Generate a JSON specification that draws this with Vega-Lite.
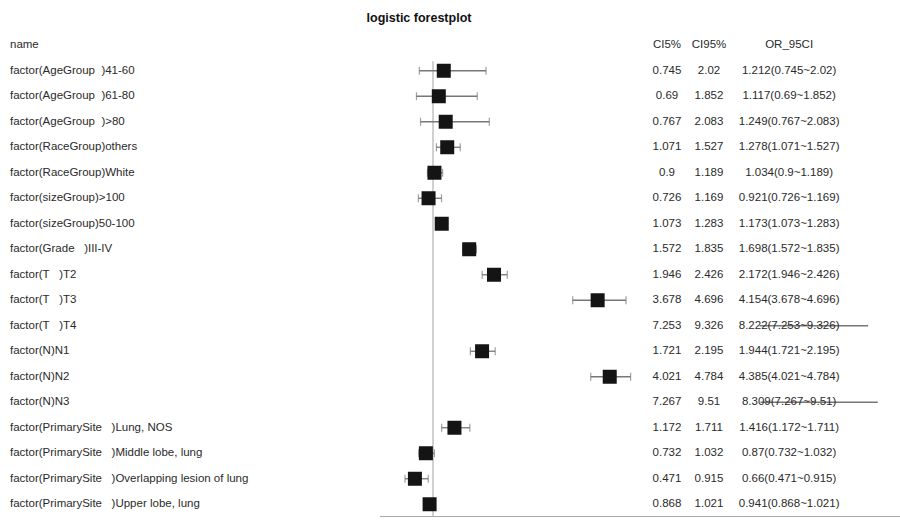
{
  "$schema": "https://vega.github.io/schema/vega-lite/v6.json",
  "autosize": {"type": "none"},
  "padding": {"top": 32.5, "left": 0, "right": 0, "bottom": 0},
  "width": 900,
  "height": {"step": 25.5},
  "background": "white",
  "title": {"text": "logistic forestplot", "font": "Liberation Sans", "fontSize": 12.5, "fontWeight": "bold", "color": "#111111", "anchor": "middle", "dx": -31, "offset": 8},
  "config": {"view": {"stroke": null}, "font": "Liberation Sans"},
  "data": {"values": [
    {"name": "name", "c5": "CI5%", "c95": "CI95%", "orci": "OR_95CI"},
    {"name": "factor(AgeGroup\u00a0\u00a0)41-60", "or": 1.212, "lo": 0.745, "hi": 2.02, "c5": "0.745", "c95": "2.02", "orci": "1.212(0.745~2.02)"},
    {"name": "factor(AgeGroup\u00a0\u00a0)61-80", "or": 1.117, "lo": 0.69, "hi": 1.852, "c5": "0.69", "c95": "1.852", "orci": "1.117(0.69~1.852)"},
    {"name": "factor(AgeGroup\u00a0\u00a0)>80", "or": 1.249, "lo": 0.767, "hi": 2.083, "c5": "0.767", "c95": "2.083", "orci": "1.249(0.767~2.083)"},
    {"name": "factor(RaceGroup)others", "or": 1.278, "lo": 1.071, "hi": 1.527, "c5": "1.071", "c95": "1.527", "orci": "1.278(1.071~1.527)"},
    {"name": "factor(RaceGroup)White", "or": 1.034, "lo": 0.9, "hi": 1.189, "c5": "0.9", "c95": "1.189", "orci": "1.034(0.9~1.189)"},
    {"name": "factor(sizeGroup)>100", "or": 0.921, "lo": 0.726, "hi": 1.169, "c5": "0.726", "c95": "1.169", "orci": "0.921(0.726~1.169)"},
    {"name": "factor(sizeGroup)50-100", "or": 1.173, "lo": 1.073, "hi": 1.283, "c5": "1.073", "c95": "1.283", "orci": "1.173(1.073~1.283)"},
    {"name": "factor(Grade\u00a0\u00a0\u00a0)III-IV", "or": 1.698, "lo": 1.572, "hi": 1.835, "c5": "1.572", "c95": "1.835", "orci": "1.698(1.572~1.835)"},
    {"name": "factor(T\u00a0\u00a0\u00a0)T2", "or": 2.172, "lo": 1.946, "hi": 2.426, "c5": "1.946", "c95": "2.426", "orci": "2.172(1.946~2.426)"},
    {"name": "factor(T\u00a0\u00a0\u00a0)T3", "or": 4.154, "lo": 3.678, "hi": 4.696, "c5": "3.678", "c95": "4.696", "orci": "4.154(3.678~4.696)"},
    {"name": "factor(T\u00a0\u00a0\u00a0)T4", "or": 8.222, "lo": 7.253, "hi": 9.326, "c5": "7.253", "c95": "9.326", "orci": "8.222(7.253~9.326)"},
    {"name": "factor(N)N1", "or": 1.944, "lo": 1.721, "hi": 2.195, "c5": "1.721", "c95": "2.195", "orci": "1.944(1.721~2.195)"},
    {"name": "factor(N)N2", "or": 4.385, "lo": 4.021, "hi": 4.784, "c5": "4.021", "c95": "4.784", "orci": "4.385(4.021~4.784)"},
    {"name": "factor(N)N3", "or": 8.309, "lo": 7.267, "hi": 9.51, "c5": "7.267", "c95": "9.51", "orci": "8.309(7.267~9.51)"},
    {"name": "factor(PrimarySite\u00a0\u00a0\u00a0)Lung, NOS", "or": 1.416, "lo": 1.172, "hi": 1.711, "c5": "1.172", "c95": "1.711", "orci": "1.416(1.172~1.711)"},
    {"name": "factor(PrimarySite\u00a0\u00a0\u00a0)Middle lobe, lung", "or": 0.87, "lo": 0.732, "hi": 1.032, "c5": "0.732", "c95": "1.032", "orci": "0.87(0.732~1.032)"},
    {"name": "factor(PrimarySite\u00a0\u00a0\u00a0)Overlapping lesion of lung", "or": 0.66, "lo": 0.471, "hi": 0.915, "c5": "0.471", "c95": "0.915", "orci": "0.66(0.471~0.915)"},
    {"name": "factor(PrimarySite\u00a0\u00a0\u00a0)Upper lobe, lung", "or": 0.941, "lo": 0.868, "hi": 1.021, "c5": "0.868", "c95": "1.021", "orci": "0.941(0.868~1.021)"}
  ]},
  "encoding": {
    "y": {"field": "name", "type": "nominal", "axis": null,
          "scale": {"type": "point", "padding": 0.5, "domain": [
            "name",
            "factor(AgeGroup\u00a0\u00a0)41-60",
            "factor(AgeGroup\u00a0\u00a0)61-80",
            "factor(AgeGroup\u00a0\u00a0)>80",
            "factor(RaceGroup)others",
            "factor(RaceGroup)White",
            "factor(sizeGroup)>100",
            "factor(sizeGroup)50-100",
            "factor(Grade\u00a0\u00a0\u00a0)III-IV",
            "factor(T\u00a0\u00a0\u00a0)T2",
            "factor(T\u00a0\u00a0\u00a0)T3",
            "factor(T\u00a0\u00a0\u00a0)T4",
            "factor(N)N1",
            "factor(N)N2",
            "factor(N)N3",
            "factor(PrimarySite\u00a0\u00a0\u00a0)Lung, NOS",
            "factor(PrimarySite\u00a0\u00a0\u00a0)Middle lobe, lung",
            "factor(PrimarySite\u00a0\u00a0\u00a0)Overlapping lesion of lung",
            "factor(PrimarySite\u00a0\u00a0\u00a0)Upper lobe, lung"
          ]}}
  },
  "layer": [
    {
      "mark": {"type": "rule", "color": "#d0d0d0", "strokeWidth": 1, "yOffset": -9, "y2Offset": 12.75},
      "encoding": {
        "x": {"datum": 1, "type": "quantitative"},
        "y": {"datum": "factor(AgeGroup\u00a0\u00a0)41-60", "type": "nominal"},
        "y2": {"datum": "factor(PrimarySite\u00a0\u00a0\u00a0)Upper lobe, lung"}
      }
    },
    {
      "mark": {"type": "rule", "color": "#a8a8a8", "strokeWidth": 1.2, "yOffset": 12.75},
      "encoding": {
        "x": {"datum": 0, "type": "quantitative"},
        "x2": {"datum": 9.935},
        "y": {"datum": "factor(PrimarySite\u00a0\u00a0\u00a0)Upper lobe, lung", "type": "nominal"}
      }
    },
    {
      "transform": [{"filter": "isValid(datum.or)"}],
      "mark": {"type": "rule", "color": "#777777", "strokeWidth": 1.3},
      "encoding": {
        "x": {"field": "lo", "type": "quantitative",
              "scale": {"domain": [-7.273, 9.935], "nice": false, "zero": false},
              "axis": {"title": null, "values": [0, 0.25, 0.5, 1, 3, 5], "domain": false, "grid": false, "tickColor": "#999999", "tickSize": 3, "labelFontSize": 8, "labelColor": "#666666", "labelPadding": 2, "labelOverlap": false}},
        "x2": {"field": "hi"}
      }
    },
    {
      "transform": [{"filter": "isValid(datum.or) && datum.or <= 5.5"}],
      "mark": {"type": "tick", "color": "#777777", "thickness": 1.2, "size": 8},
      "encoding": {"x": {"field": "lo", "type": "quantitative"}}
    },
    {
      "transform": [{"filter": "isValid(datum.or) && datum.or <= 5.5"}],
      "mark": {"type": "tick", "color": "#777777", "thickness": 1.2, "size": 8},
      "encoding": {"x": {"field": "hi", "type": "quantitative"}}
    },
    {
      "transform": [{"filter": "isValid(datum.or) && datum.or <= 5.5"}],
      "mark": {"type": "square", "color": "#141414", "filled": true, "opacity": 1, "size": 196},
      "encoding": {"x": {"field": "or", "type": "quantitative"}}
    },
    {
      "mark": {"type": "text", "align": "left", "baseline": "middle", "fontSize": 11.5, "color": "#2a2a2a"},
      "encoding": {"x": {"datum": -7.082, "type": "quantitative"}, "text": {"field": "name"}}
    },
    {
      "mark": {"type": "text", "align": "center", "baseline": "middle", "fontSize": 11.5, "color": "#2a2a2a"},
      "encoding": {"x": {"datum": 5.48, "type": "quantitative"}, "text": {"field": "c5"}}
    },
    {
      "mark": {"type": "text", "align": "center", "baseline": "middle", "fontSize": 11.5, "color": "#2a2a2a"},
      "encoding": {"x": {"datum": 6.283, "type": "quantitative"}, "text": {"field": "c95"}}
    },
    {
      "mark": {"type": "text", "align": "center", "baseline": "middle", "fontSize": 11.5, "color": "#2a2a2a"},
      "encoding": {"x": {"datum": 7.815, "type": "quantitative"}, "text": {"field": "orci"}}
    }
  ]
}
